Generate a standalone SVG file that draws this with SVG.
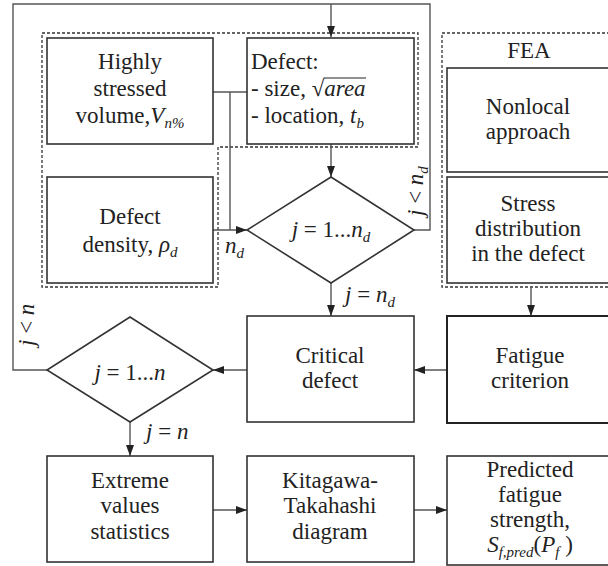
<svg xmlns="http://www.w3.org/2000/svg" width="608" height="566" viewBox="0 0 608 566">
<defs>
<marker id="ah" markerUnits="userSpaceOnUse" markerWidth="11" markerHeight="8" refX="11" refY="4" orient="auto">
<path d="M0,0 L11,4 L0,8 z" fill="#222"/>
</marker>
</defs>
<rect width="608" height="566" fill="#fff"/>
<g id="groups">
<path d="M42,33 H418 V147 H218 V287 H42 Z" fill="none" stroke="#333" stroke-width="1.3" stroke-dasharray="3 2"/>
<path d="M620,33 H442 V287 H620" fill="none" stroke="#333" stroke-width="1.3" stroke-dasharray="3 2"/>
<text x="529" y="58" font-family="Liberation Serif" font-size="23" fill="#222" text-anchor="middle">FEA</text>
</g>
<g id="connectors" fill="none" stroke="#555" stroke-width="1.4">
<path d="M47,370 H13 V4 H430 V230 H414"/>
<path d="M331,4 V37" marker-end="url(#ah)"/>
<path d="M213,92 H247 M230,92 V230"/>
<path d="M213,230 H247" marker-end="url(#ah)"/>
<path d="M331,144 V177" marker-end="url(#ah)"/>
<path d="M331,283 V316" marker-end="url(#ah)"/>
<path d="M531,287 V316" marker-end="url(#ah)"/>
<path d="M447,370 H414" marker-end="url(#ah)"/>
<path d="M247,370 H213" marker-end="url(#ah)"/>
<path d="M130,422 V456" marker-end="url(#ah)"/>
<path d="M213,510 H247" marker-end="url(#ah)"/>
<path d="M414,510 H447" marker-end="url(#ah)"/>
</g>
<g id="connector-labels">
<text x="225" y="253" font-family="Liberation Serif" font-size="23" fill="#222" stroke="none"><tspan font-style="italic">n</tspan><tspan dy="5" font-style="italic" font-size="15">d</tspan></text>
<text x="345" y="302" font-family="Liberation Serif" font-size="23" fill="#222"><tspan font-style="italic">j</tspan> = <tspan font-style="italic">n</tspan><tspan dy="5" font-style="italic" font-size="15">d</tspan></text>
<text x="146" y="439" font-family="Liberation Serif" font-size="23" fill="#222"><tspan font-style="italic">j</tspan> = <tspan font-style="italic">n</tspan></text>
<text transform="translate(34,346) rotate(-90)" font-family="Liberation Serif" font-size="23" fill="#222"><tspan font-style="italic">j</tspan> &lt; <tspan font-style="italic">n</tspan></text>
<text transform="translate(423,216) rotate(-90)" font-family="Liberation Serif" font-size="23" fill="#222"><tspan font-style="italic">j</tspan> &lt; <tspan font-style="italic">n</tspan><tspan dy="5" font-style="italic" font-size="15">d</tspan></text>
</g>
<g id="highly-stressed">
<rect x="47" y="38" width="166" height="106" fill="#fff" stroke="#333" stroke-width="1.6"/>
<text x="130" y="69" font-family="Liberation Serif" font-size="23" fill="#222" text-anchor="middle">Highly</text>
<text x="130" y="96" font-family="Liberation Serif" font-size="23" fill="#222" text-anchor="middle">stressed</text>
<text x="130" y="123" font-family="Liberation Serif" font-size="23" fill="#222" text-anchor="middle">volume,<tspan font-style="italic">V</tspan><tspan dy="5" font-style="italic" font-size="15">n%</tspan></text>
</g>
<g id="defect">
<rect x="247" y="38" width="167" height="106" fill="#fff" stroke="#333" stroke-width="1.6"/>
<text x="251" y="69" font-family="Liberation Serif" font-size="23" fill="#222">Defect:</text>
<text x="251" y="96" font-family="Liberation Serif" font-size="23" fill="#222">- size, √<tspan font-style="italic">area</tspan></text>
<text x="251" y="123" font-family="Liberation Serif" font-size="23" fill="#222">- location, <tspan font-style="italic">t</tspan><tspan dy="5" font-style="italic" font-size="15">b</tspan></text>
<line x1="324" y1="78" x2="366" y2="78" stroke="#222" stroke-width="1"/>
</g>
<g id="defect-density">
<rect x="47" y="177" width="166" height="106" fill="#fff" stroke="#333" stroke-width="1.6"/>
<text x="130" y="224" font-family="Liberation Serif" font-size="23" fill="#222" text-anchor="middle">Defect</text>
<text x="130" y="252" font-family="Liberation Serif" font-size="23" fill="#222" text-anchor="middle">density, <tspan font-style="italic">ρ</tspan><tspan dy="5" font-style="italic" font-size="15">d</tspan></text>
</g>
<g id="nonlocal">
<rect x="447" y="68" width="172" height="104" fill="#fff" stroke="#333" stroke-width="1.6"/>
<text x="528" y="114" font-family="Liberation Serif" font-size="23" fill="#222" text-anchor="middle">Nonlocal</text>
<text x="528" y="139" font-family="Liberation Serif" font-size="23" fill="#222" text-anchor="middle">approach</text>
</g>
<g id="stress-distribution">
<rect x="447" y="177" width="172" height="106" fill="#fff" stroke="#333" stroke-width="1.6"/>
<text x="528" y="211" font-family="Liberation Serif" font-size="23" fill="#222" text-anchor="middle">Stress</text>
<text x="528" y="236" font-family="Liberation Serif" font-size="23" fill="#222" text-anchor="middle">distribution</text>
<text x="528" y="261" font-family="Liberation Serif" font-size="23" fill="#222" text-anchor="middle">in the defect</text>
</g>
<g id="loop-defects">
<polygon points="331,177 414,230 331,283 247,230" fill="#fff" stroke="#333" stroke-width="1.6"/>
<text x="331" y="237" font-family="Liberation Serif" font-size="23" fill="#222" text-anchor="middle"><tspan font-style="italic">j</tspan> = 1...<tspan font-style="italic">n</tspan><tspan dy="5" font-style="italic" font-size="15">d</tspan></text>
</g>
<g id="critical-defect">
<rect x="247" y="316" width="167" height="106" fill="#fff" stroke="#333" stroke-width="1.6"/>
<text x="330" y="363" font-family="Liberation Serif" font-size="23" fill="#222" text-anchor="middle">Critical</text>
<text x="330" y="388" font-family="Liberation Serif" font-size="23" fill="#222" text-anchor="middle">defect</text>
</g>
<g id="fatigue-criterion">
<rect x="447" y="316" width="172" height="107" fill="#fff" stroke="#222" stroke-width="2"/>
<text x="530" y="363" font-family="Liberation Serif" font-size="23" fill="#222" text-anchor="middle">Fatigue</text>
<text x="530" y="388" font-family="Liberation Serif" font-size="23" fill="#222" text-anchor="middle">criterion</text>
</g>
<g id="loop-samples">
<polygon points="130,317 213,370 130,422 47,370" fill="#fff" stroke="#333" stroke-width="1.6"/>
<text x="130" y="380" font-family="Liberation Serif" font-size="23" fill="#222" text-anchor="middle"><tspan font-style="italic">j</tspan> = 1...<tspan font-style="italic">n</tspan></text>
</g>
<g id="extreme-values">
<rect x="47" y="456" width="166" height="106" fill="#fff" stroke="#333" stroke-width="1.6"/>
<text x="130" y="488" font-family="Liberation Serif" font-size="23" fill="#222" text-anchor="middle">Extreme</text>
<text x="130" y="513" font-family="Liberation Serif" font-size="23" fill="#222" text-anchor="middle">values</text>
<text x="130" y="539" font-family="Liberation Serif" font-size="23" fill="#222" text-anchor="middle">statistics</text>
</g>
<g id="kitagawa">
<rect x="247" y="456" width="167" height="106" fill="#fff" stroke="#333" stroke-width="1.6"/>
<text x="330" y="488" font-family="Liberation Serif" font-size="23" fill="#222" text-anchor="middle">Kitagawa-</text>
<text x="330" y="513" font-family="Liberation Serif" font-size="23" fill="#222" text-anchor="middle">Takahashi</text>
<text x="330" y="539" font-family="Liberation Serif" font-size="23" fill="#222" text-anchor="middle">diagram</text>
</g>
<g id="predicted">
<rect x="447" y="456" width="172" height="109" fill="#fff" stroke="#333" stroke-width="1.6"/>
<text x="530" y="477" font-family="Liberation Serif" font-size="23" fill="#222" text-anchor="middle">Predicted</text>
<text x="530" y="502" font-family="Liberation Serif" font-size="23" fill="#222" text-anchor="middle">fatigue</text>
<text x="530" y="527" font-family="Liberation Serif" font-size="23" fill="#222" text-anchor="middle">strength,</text>
<text x="530" y="552" font-family="Liberation Serif" font-size="23" fill="#222" text-anchor="middle"><tspan font-style="italic">S</tspan><tspan dy="5" font-style="italic" font-size="15">f,pred</tspan><tspan dy="-5">(</tspan><tspan font-style="italic">P</tspan><tspan dy="5" font-style="italic" font-size="15">f</tspan><tspan dy="-5"> )</tspan></text>
</g>
</svg>
